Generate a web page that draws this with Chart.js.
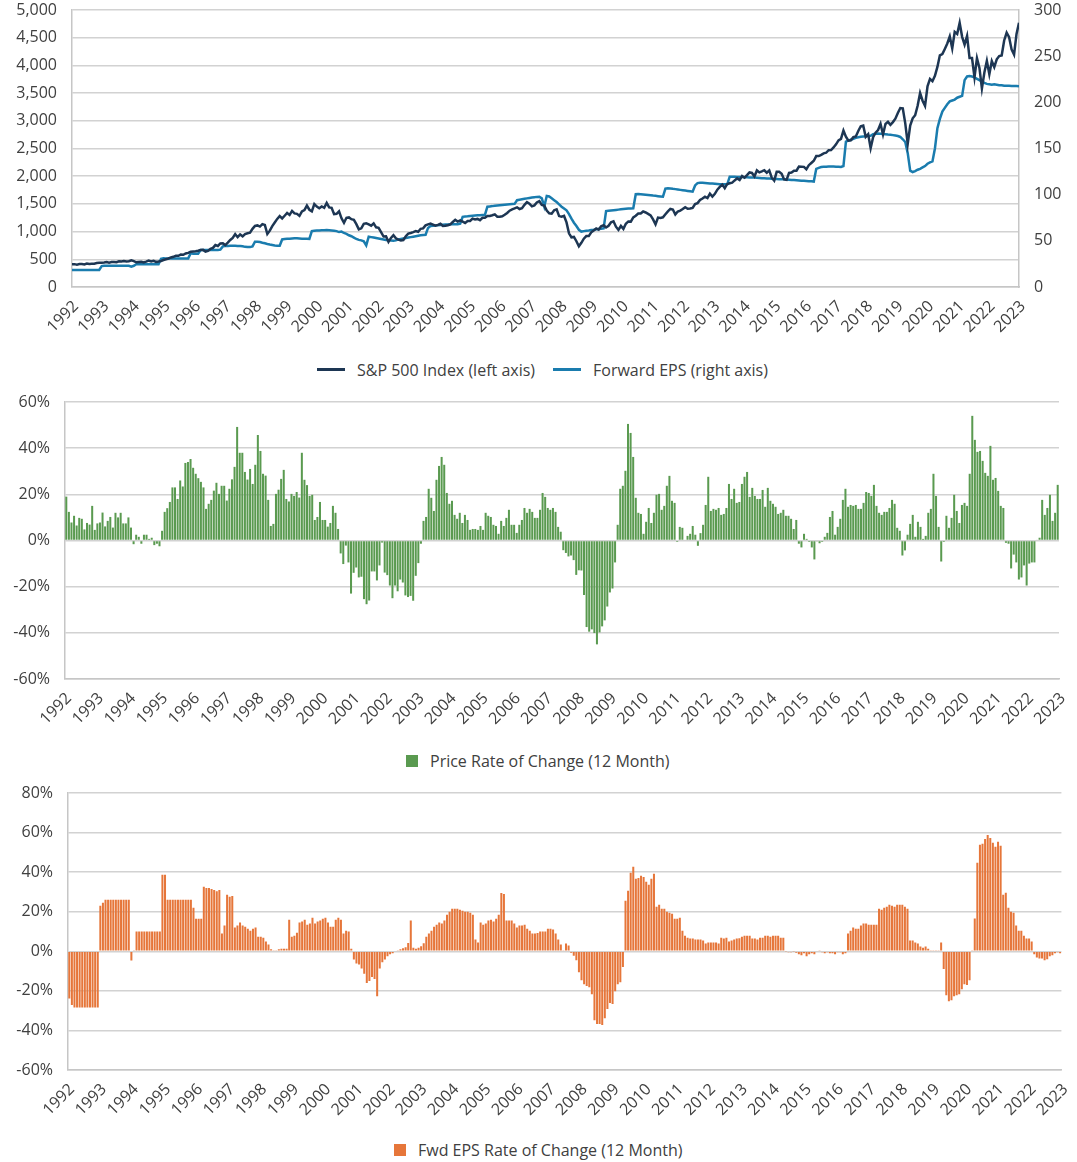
<!DOCTYPE html>
<html>
<head>
<meta charset="utf-8">
<title>S&amp;P 500 vs Forward EPS</title>
<script src="https://cdn.jsdelivr.net/npm/chart.js@4.4.1/dist/chart.umd.min.js"></script>
<style>
    body { margin: 0; background: #fff; }
    .page { position: relative; width: 1077px; height: 1162px; font-family: 'Open Sans', sans-serif; color: #404040; }
    canvas { position: absolute; left: 0; }
    .legend-text { position: absolute; font-size: 16px; line-height: 20px; white-space: nowrap; }
    .swatch { position: absolute; }
</style>
</head>
<body>
<div class="page">
    <canvas id="priceChart" width="1077" height="345" style="top:0"></canvas>
    <canvas id="rocChart" width="1077" height="345" style="top:390px"></canvas>
    <canvas id="epsRocChart" width="1077" height="345" style="top:780px"></canvas>

    <div class="swatch" style="left:317px; top:368px; width:28px; height:3px; background:#1d3653;"></div>
    <div class="legend-text" style="left:357px; top:360px;">S&amp;P 500 Index (left axis)</div>
    <div class="swatch" style="left:553px; top:368px; width:28px; height:3px; background:#1a7cae;"></div>
    <div class="legend-text" style="left:593px; top:360px;">Forward EPS (right axis)</div>

    <div class="swatch" style="left:406px; top:755px; width:12px; height:12px; background:#5a9a50;"></div>
    <div class="legend-text" style="left:430px; top:751px;">Price Rate of Change (12 Month)</div>

    <div class="swatch" style="left:394px; top:1144px; width:12px; height:12px; background:#e6763a;"></div>
    <div class="legend-text" style="left:418px; top:1140px;">Fwd EPS Rate of Change (12 Month)</div>
</div>

<script>
// tick labels on the time axis
const yearLabels = ['1992', '1993', '1994', '1995', '1996', '1997', '1998', '1999',
    '2000', '2001', '2002', '2003', '2004', '2005', '2006', '2007',
    '2008', '2009', '2010', '2011', '2012', '2013', '2014', '2015',
    '2016', '2017', '2018', '2019', '2020', '2021', '2022', '2023'];

// S&P 500 month end level, Jan 1992 - Dec 2023
const sp500 = [
    408.8, 412.7, 403.7, 415.0, 415.4, 408.1, 424.2, 414.0, 417.8, 418.7, 431.4, 435.7,
    438.8, 443.4, 451.7, 440.2, 450.2, 450.5, 448.1, 463.6, 458.9, 467.8, 461.8, 466.5,
    481.6, 467.1, 445.8, 450.9, 456.5, 444.3, 458.3, 475.5, 462.7, 472.4, 453.7, 459.3,
    470.4, 487.4, 500.7, 514.7, 533.4, 544.8, 562.1, 561.9, 584.4, 581.5, 605.4, 615.9,
    636.0, 640.4, 645.5, 654.2, 669.1, 670.6, 640.0, 652.0, 687.3, 705.3, 757.0, 740.7,
    786.2, 790.8, 757.1, 801.3, 848.3, 885.1, 954.3, 899.5, 947.3, 914.6, 955.4, 970.4,
    980.3, 1049.3, 1101.8, 1111.8, 1090.8, 1133.8, 1120.7, 957.3, 1017.0, 1098.7, 1163.6, 1229.2,
    1279.6, 1238.3, 1286.4, 1335.2, 1301.8, 1372.7, 1328.7, 1320.4, 1282.7, 1362.9, 1388.9, 1469.3,
    1394.5, 1366.4, 1498.6, 1452.4, 1420.6, 1454.6, 1430.8, 1517.7, 1436.5, 1429.4, 1315.0, 1320.3,
    1366.0, 1239.9, 1160.3, 1249.5, 1255.8, 1224.4, 1211.2, 1133.6, 1040.9, 1059.8, 1139.5, 1148.1,
    1130.2, 1106.7, 1147.4, 1076.9, 1067.1, 989.8, 911.6, 916.1, 815.3, 885.8, 936.3, 879.8,
    855.7, 841.2, 848.2, 916.9, 963.6, 974.5, 990.3, 1008.0, 996.0, 1050.7, 1058.2, 1111.9,
    1131.1, 1144.9, 1126.2, 1107.3, 1120.7, 1140.8, 1101.7, 1104.2, 1114.6, 1130.2, 1173.8, 1211.9,
    1181.3, 1203.6, 1180.6, 1156.9, 1191.5, 1191.3, 1234.2, 1220.3, 1228.8, 1207.0, 1249.5, 1248.3,
    1280.1, 1280.7, 1294.8, 1310.6, 1270.1, 1270.2, 1276.7, 1303.8, 1335.9, 1377.9, 1400.6, 1418.3,
    1438.2, 1406.8, 1420.9, 1482.4, 1530.6, 1503.4, 1455.3, 1474.0, 1526.8, 1549.4, 1481.1, 1468.4,
    1378.6, 1330.6, 1322.7, 1385.6, 1400.4, 1280.0, 1267.4, 1282.8, 1166.4, 968.8, 896.2, 903.3,
    825.9, 735.1, 797.9, 872.8, 919.1, 919.3, 987.5, 1020.6, 1057.1, 1036.2, 1095.6, 1115.1,
    1073.9, 1104.5, 1169.4, 1186.7, 1089.4, 1030.7, 1101.6, 1049.3, 1141.2, 1183.3, 1180.6, 1257.6,
    1286.1, 1327.2, 1325.8, 1363.6, 1345.2, 1320.6, 1292.3, 1218.9, 1131.4, 1253.3, 1247.0, 1257.6,
    1312.4, 1365.7, 1408.5, 1397.9, 1310.3, 1362.2, 1379.3, 1406.6, 1440.7, 1412.2, 1416.2, 1426.2,
    1498.1, 1514.7, 1569.2, 1597.6, 1630.7, 1606.3, 1685.7, 1633.0, 1681.6, 1756.5, 1805.8, 1848.4,
    1782.6, 1859.5, 1872.3, 1884.0, 1923.6, 1960.2, 1930.7, 2003.4, 1972.3, 2018.1, 2067.6, 2058.9,
    1995.0, 2104.5, 2067.9, 2085.5, 2107.4, 2063.1, 2103.8, 1972.2, 1920.0, 2079.4, 2080.4, 2043.9,
    1940.2, 1932.2, 2059.7, 2065.3, 2097.0, 2098.9, 2173.6, 2171.0, 2168.3, 2126.2, 2198.8, 2238.8,
    2278.9, 2363.6, 2362.7, 2384.2, 2411.8, 2423.4, 2470.3, 2471.7, 2519.4, 2575.3, 2647.6, 2673.6,
    2823.8, 2713.8, 2640.9, 2648.1, 2705.3, 2718.4, 2816.3, 2901.5, 2914.0, 2711.7, 2760.2, 2506.9,
    2704.1, 2784.5, 2834.4, 2945.8, 2752.1, 2941.8, 2980.4, 2926.5, 2976.7, 3037.6, 3141.0, 3230.8,
    3225.5, 2954.2, 2584.6, 2912.4, 3044.3, 3100.3, 3271.1, 3500.3, 3363.0, 3270.0, 3621.6, 3756.1,
    3714.2, 3811.2, 3972.9, 4181.2, 4204.1, 4297.5, 4395.3, 4522.7, 4307.5, 4605.4, 4567.0, 4766.2,
    4515.6, 4373.9, 4530.4, 4131.9, 4132.2, 3785.4, 4130.3, 3955.0, 3585.6, 3872.0, 4080.1, 3839.5,
    4076.6, 3970.2, 4109.3, 4169.5, 4179.8, 4450.4, 4589.0, 4507.7, 4288.1, 4193.8, 4567.8, 4769.8
];

// forward 12 month EPS, same months (right axis)
const forwardEps = [
    18.4, 18.4, 18.4, 18.4, 18.4, 18.4, 18.4, 18.4, 18.4, 18.4, 18.4, 18.4,
    22.6, 22.9, 23.0, 23.0, 23.0, 23.0, 23.0, 23.0, 23.0, 23.0, 23.0, 23.0,
    22.1, 23.0, 24.6, 24.6, 24.6, 24.6, 24.6, 24.6, 24.6, 24.6, 24.6, 24.6,
    30.5, 31.2, 31.0, 31.0, 31.0, 31.0, 31.0, 31.0, 31.0, 31.0, 31.0, 31.0,
    36.5, 36.0, 36.0, 36.0, 40.0, 40.0, 40.0, 40.0, 40.0, 40.0, 40.0, 40.0,
    40.5, 44.0, 44.4, 44.4, 44.6, 44.6, 44.6, 44.5, 44.4, 44.2, 43.5, 43.2,
    43.2, 44.0, 49.0, 49.0, 48.8, 48.0, 47.3, 46.6, 46.0, 45.5, 45.0, 44.6,
    44.6, 51.5, 52.0, 52.3, 52.3, 52.5, 52.7, 52.7, 52.5, 52.3, 52.3, 52.2,
    52.0, 60.5, 61.0, 61.3, 61.3, 61.5, 61.5, 61.7, 61.5, 61.3, 61.0, 60.5,
    59.5, 60.0, 58.5, 57.5, 56.0, 55.0, 53.5, 52.0, 51.0, 50.5, 49.5, 45.0,
    54.5, 54.0, 53.5, 53.0, 52.5, 52.0, 51.5, 51.0, 50.5, 50.3, 50.0, 50.5,
    51.5, 52.0, 52.5, 53.0, 53.5, 54.0, 54.5, 55.0, 55.5, 56.0, 56.3, 56.6,
    64.0, 66.0, 66.3, 66.6, 67.0, 67.2, 67.4, 67.6, 67.8, 68.0, 68.0, 68.0,
    68.0, 68.5, 76.0, 76.3, 76.6, 77.0, 77.2, 77.4, 77.6, 77.8, 78.0, 78.0,
    87.0, 87.3, 87.6, 88.0, 88.3, 88.6, 88.9, 89.2, 89.4, 89.6, 89.8, 90.0,
    94.0, 94.5, 95.0, 95.5, 96.0, 96.5, 97.0, 97.3, 97.6, 97.8, 96.0, 87.0,
    98.6, 98.0, 96.0, 94.0, 92.0, 89.5, 87.0, 85.0, 83.0, 79.0, 74.0, 69.6,
    66.0, 62.0, 60.0, 60.5, 61.0, 61.3, 61.7, 62.0, 62.4, 62.8, 63.2, 63.5,
    82.3, 82.6, 82.9, 83.2, 83.5, 83.8, 84.1, 84.4, 84.7, 85.0, 85.1, 85.2,
    100.5, 100.7, 100.5, 100.3, 100.0, 99.7, 99.4, 99.0, 98.7, 98.4, 98.1, 97.8,
    106.5, 107.0, 106.7, 106.3, 106.0, 105.6, 105.2, 104.8, 104.4, 104.0, 103.6, 103.2,
    110.0, 112.5, 113.0, 112.8, 112.6, 112.4, 112.2, 112.0, 111.8, 111.6, 111.4, 111.2,
    111.2, 111.2, 119.5, 119.4, 119.3, 119.2, 119.1, 119.0, 118.9, 118.8, 118.7, 118.6,
    118.5, 118.3, 118.1, 117.9, 117.8, 117.6, 117.4, 117.2, 117.0, 116.9, 116.8, 116.7,
    116.6, 116.4, 116.2, 116.0, 115.8, 115.6, 115.4, 115.2, 115.0, 114.8, 114.6, 114.4,
    114.2, 128.0, 129.0, 130.0, 130.2, 130.3, 130.4, 130.5, 130.4, 130.3, 130.2, 130.0,
    131.0, 157.4, 158.5, 159.5, 160.5, 161.5, 162.2, 162.8, 163.0, 163.2, 163.5, 163.8,
    165.5, 166.0, 166.2, 166.0, 165.8, 165.5, 165.2, 165.0, 164.5, 164.0, 163.5, 162.5,
    160.0, 157.0, 145.0, 126.0, 124.5, 125.5, 127.0, 128.0, 129.5, 131.0, 133.5, 135.0,
    136.0, 150.0, 172.0, 182.0, 190.0, 194.0, 198.0, 201.0, 202.0, 203.0, 205.0, 206.0,
    207.0, 224.0, 228.0, 228.5, 228.0, 227.0, 225.5, 224.0, 222.5, 221.0, 220.0, 219.5,
    219.0, 219.5, 219.0, 218.5, 218.5, 218.0, 218.0, 218.0, 217.8, 217.8, 217.7, 217.5
];

// 12 month change of the index, in %
const priceRoc = [
    19, 12.4, 7.8, 10.7, 6.5, 9.8, 9.4, 4.8, 7.6, 6.9, 15, 4.6,
    7.4, 7.8, 12.1, 6.1, 8.5, 10.2, 5.6, 12, 10, 12, 7.4, 7.4,
    10, 5.6, -1.6, 2.5, 1.6, -1.4, 2.5, 2.5, 0.7, 1.2, -2, -1.4,
    -2.5, 4.2, 12.4, 14, 16.7, 23, 23, 18, 26, 23.4, 33.6, 34,
    35.3, 31.5, 28.9, 27, 25.4, 23, 13.7, 15.9, 17.6, 21.6, 25, 20.2,
    23.7, 23.7, 17.3, 22.4, 26.5, 31.9, 49.2, 38, 38, 29.7, 26.4, 31,
    24.5, 32.8, 45.7, 38.8, 28.9, 28.1, 17.6, 6.3, 7.2, 20.2, 22, 26.7,
    30.6, 18, 16.9, 20.2, 19.3, 21, 18.6, 38, 26.3, 24, 19.3, 19.8,
    8.9, 10.2, 16.7, 8.9, 8.9, 6, 7.6, 15, 12, 5, -5.6, -10.2,
    -2.2, -9.5, -23, -14, -11.7, -16, -15.7, -25.4, -27.6, -26, -13.4, -13.4,
    -17.3, -10.8, -0.9, -13.9, -15, -19.5, -25, -19.5, -22, -16.9, -18.2, -23.8,
    -24.5, -24, -26.1, -15.3, -9.8, -1.4, 8.5, 10.2, 22.4, 18.5, 12.8, 26.3,
    32.3, 36.2, 32.8, 20.6, 15.9, 17.2, 11.1, 9.4, 12, 7.6, 11.1, 8.9,
    4.6, 5, 5, 4.6, 6.3, 4.6, 12, 10.7, 10.2, 6.8, 6.3, 2.9,
    8.5, 6.3, 9.8, 13.3, 6.8, 6.8, 3.3, 6.8, 8.9, 14.1, 12, 13.7,
    12.4, 9.8, 9.8, 13.3, 20.6, 18.9, 14.1, 13.3, 14.1, 12.4, 5.9, 3.8,
    -4.2, -5.4, -6.9, -6.5, -8.5, -14.9, -12.9, -13, -23.6, -37.5, -39.5, -38.5,
    -40.1, -45, -39.8, -37.2, -34.6, -28.6, -22.5, -20.8, -9.5, 6.8, 22.4, 23.7,
    30.2, 50.5, 46.6, 36.2, 18.5, 12, 11.5, 2.9, 8.1, 14.1, 7.6, 12,
    19.8, 20.2, 13.3, 15, 23.7, 28, 17.2, 16.3, -0.6, 5.9, 5.5, 0.3,
    2, 2.9, 6.3, 2.5, -2.3, 3.2, 6.8, 15.4, 27.6, 12.8, 13.7, 13.3,
    14.1, 11.1, 11.5, 14.1, 24.5, 18, 22.4, 16.3, 16.7, 24.5, 27.6, 29.7,
    18.9, 22.8, 19.3, 18, 18, 21.9, 14.6, 22.8, 17.2, 15.9, 14.6, 11.5,
    12, 13.3, 10.7, 10.7, 9.4, 5, 8.9, -1.4, -3, 2.9, 0.7, -0.6,
    -3, -8.2, -0.4, -1.2, -0.6, 1.6, 3.3, 10.2, 12.8, 2.5, 5.9, 9.4,
    17.6, 22.4, 14.6, 15.4, 15, 15.4, 13.7, 13.7, 16.3, 21, 20.6, 19.3,
    24.1, 15, 12, 11.1, 12.4, 12.4, 14.1, 17.6, 15.9, 5.5, 4.2, -6.5,
    -4.3, 2.5, 7.2, 11.1, 1.6, 8.1, 5.9, 0.7, 2, 12, 13.7, 28.9,
    19.3, 5.9, -9.1, -0.6, 10.7, 5.5, 9.8, 19.8, 12.8, 7.6, 15.4, 16.3,
    15, 28.9, 54, 43.6, 38.4, 38.8, 34.5, 29.3, 28, 41, 26.3, 27.1,
    21.5, 15, 14.1, -1, -1.4, -12.1, -6.1, -9.5, -16.9, -16, -10.8, -19.5,
    -10, -9.5, -9.5, 0.3, 1.2, 17.6, 11.1, 14.1, 19.8, 8.5, 12, 24.1
];

// 12 month change of forward EPS, in %
const epsRoc = [
    -23.9, -27.2, -28.4, -28.4, -28.4, -28.4, -28.4, -28.4, -28.4, -28.4, -28.4, -28.4,
    23, 24.5, 26, 26, 26, 26, 26, 26, 26, 26, 26, 26,
    -4.7, 0.3, 10, 10, 10, 10, 10, 10, 10, 10, 10, 10,
    38.7, 38.7, 26, 26, 26, 26, 26, 26, 26, 26, 26, 26,
    22, 16.5, 16.5, 16.5, 32.6, 32, 32, 31.5, 31, 30.4, 31, 9,
    13, 28.6, 27.6, 28, 12, 13, 14.6, 13, 12.4, 11.4, 10.4, 11.4,
    12, 7.4, 7.4, 6.9, 4.9, 3.4, 1, 0.3, 0.3, 1, 1.3, 1.3,
    1.3, 16, 7.4, 7.9, 9.4, 14.5, 15, 16, 13.4, 14, 17, 14,
    15, 15.5, 16.5, 17, 14.5, 12.4, 12.4, 16, 17, 16, 9, 10.4,
    10, 1.3, -4.2, -6.2, -6.7, -8.7, -11.3, -16, -15, -13, -14, -22.7,
    -8.7, -5.5, -4.2, -2.5, -1.5, -1, 0, 0.5, 1, 1.5, 2, 4.2,
    15.5, 1.8, 1.3, 1.8, 2.5, 4, 7.4, 9, 10.4, 12.4, 13.4, 14.5,
    14, 15.5, 18.5, 20, 21.5, 21.5, 21.5, 21, 20.5, 20, 20, 19.5,
    18.5, 5.9, 4.4, 14.5, 13.4, 14, 15.5, 16, 15, 16.5, 18.5, 29.4,
    29, 15.5, 15.5, 15.5, 14, 12, 13, 13, 13.4, 11.4, 10.4, 9,
    9, 9.2, 10, 10, 10, 11.4, 11.4, 11, 9, 5.9, 3.4, 0.3,
    3.9, 2.9, -0.8, -2.2, -4.5, -10.6, -14.6, -16.6, -17.6, -18.2, -21.7, -34.8,
    -36.8, -36.8, -37.3, -33.8, -29.2, -26.2, -26.7, -20.2, -16.6, -15.6, -8, 25.5,
    30.6, 39.7, 42.7, 36.6, 37.1, 38.2, 37.6, 35.1, 33.6, 36.6, 39.2, 22.5,
    23.5, 21.5, 21.5, 20, 19.5, 19, 16.5, 16.5, 17, 10.4, 7.9, 6.9,
    6.4, 6.4, 6, 5.9, 5.9, 5.4, 3.9, 4.4, 4.4, 4.4, 4.4, 3.9,
    6.9, 6.4, 6.9, 4.9, 5.4, 6, 6.4, 6.6, 7.4, 7.9, 7.9, 7.9,
    6.4, 6.4, 5.9, 6.9, 6.9, 7.9, 7.9, 7.4, 7.9, 7.9, 7.9, 6.9,
    6.9, -0.2, -0.5, -0.5, -0.2, -0.8, -1.5, -2, -1, -2.5, -1.5, -1,
    -1.5, 0, 0.3, -0.5, -1, -0.5, -1, -1, -1.5, -0.5, -0.5, -1.5,
    -1, 9, 10.4, 12, 11.4, 11.4, 13, 14, 14, 13.4, 13.4, 13.4,
    13.4, 21.5, 21, 22, 22.5, 23.5, 23, 22.5, 23.5, 23.5, 23.5, 22.5,
    21.5, 5.4, 5.4, 4.4, 3.9, 2.4, 1.8, 2.4, 1.3, 0.3, 0.3, 0.3,
    0.3, 4.4, -9, -22.2, -25.2, -24.7, -22.7, -22.2, -21.7, -19.2, -16.6, -17.1,
    -14.6, 0.3, 16.6, 44.7, 53.8, 54.3, 56.8, 58.8, 57.3, 54.8, 52.8, 55.3,
    53.3, 28.6, 29.6, 22, 20, 19.5, 13, 10.4, 10.4, 7.9, 6.4, 6.4,
    4.9, -1.5, -3.2, -3.7, -3.7, -4.5, -4, -2.5, -2, -1, -0.5, -1
];

const textColor = '#404040';
const gridColor = '#d2d2d2';
const tickFont = { family: "'Open Sans', sans-serif", size: 16 };

// monthly series -> {x, y} points on a linear month axis
function toPoints(values) {
    return values.map((v, i) => ({ x: i, y: v }));
}

// year labels spread evenly along the month axis, rotated like the original
function yearAxis(min, max, height) {
    return {
        type: 'linear',
        min: min,
        max: max,
        offset: false,
        grid: { display: false },
        border: { display: true, color: '#c6c6c6', width: 1.5 },
        afterBuildTicks: (axis) => {
            const step = (max - min) / (yearLabels.length - 1);
            axis.ticks = yearLabels.map((label, i) => ({ value: min + i * step }));
        },
        ticks: {
            autoSkip: false,
            maxRotation: 45,
            minRotation: 45,
            padding: 2,
            labelOffset: 4,
            color: textColor,
            font: tickFont,
            callback: (value, index) => yearLabels[index]
        },
        afterFit: (axis) => { axis.height = height; }
    };
}

function valueAxis(min, max, step, width, format, position) {
    return {
        position: position || 'left',
        min: min,
        max: max,
        grid: { color: gridColor, lineWidth: 1.5, drawTicks: false },
        border: { display: true, color: '#c6c6c6', width: 1.5 },
        ticks: {
            stepSize: step,
            padding: 15,
            color: textColor,
            font: tickFont,
            callback: format
        },
        afterFit: (axis) => {
            axis.width = width;
            // let layout.padding alone decide where the plot starts
            axis.paddingTop = 0;
            axis.paddingBottom = 0;
        }
    };
}

Chart.defaults.font.family = "'Open Sans', sans-serif";
Chart.defaults.color = textColor;

// top panel: index level against forward EPS
const rightAxis = valueAxis(0, 300, 50, 58, (v) => v, 'right');
rightAxis.grid = { display: false, drawTicks: false };

new Chart(document.getElementById('priceChart').getContext('2d'), {
    type: 'line',
    data: {
        datasets: [{
            label: 'S&P 500 Index (left axis)',
            data: toPoints(sp500),
            yAxisID: 'y',
            borderColor: '#1d3653',
            borderWidth: 2.5,
            pointRadius: 0,
            tension: 0
        }, {
            label: 'Forward EPS (right axis)',
            data: toPoints(forwardEps),
            yAxisID: 'y1',
            borderColor: '#1a7cae',
            borderWidth: 2.5,
            pointRadius: 0,
            tension: 0
        }]
    },
    options: {
        responsive: false,
        animation: false,
        layout: { padding: { top: 10 } },
        plugins: { legend: { display: false }, tooltip: { enabled: false } },
        scales: {
            x: yearAxis(0, sp500.length - 1, 58),
            y: valueAxis(0, 5000, 500, 72, (v) => v.toLocaleString('en-US')),
            y1: rightAxis
        }
    }
});

// middle panel: price rate of change
new Chart(document.getElementById('rocChart').getContext('2d'), {
    type: 'bar',
    data: {
        datasets: [{
            label: 'Price Rate of Change (12 Month)',
            data: toPoints(priceRoc),
            backgroundColor: '#5a9a50',
            categoryPercentage: 1,
            barPercentage: 0.78
        }]
    },
    options: {
        responsive: false,
        animation: false,
        layout: { padding: { top: 12, right: 18 } },
        plugins: { legend: { display: false }, tooltip: { enabled: false } },
        scales: {
            x: yearAxis(-0.5, priceRoc.length - 0.5, 56),
            y: valueAxis(-60, 60, 20, 65, (v) => v + '%')
        }
    }
});

// bottom panel: forward EPS rate of change
new Chart(document.getElementById('epsRocChart').getContext('2d'), {
    type: 'bar',
    data: {
        datasets: [{
            label: 'Fwd EPS Rate of Change (12 Month)',
            data: toPoints(epsRoc),
            backgroundColor: '#e6763a',
            categoryPercentage: 1,
            barPercentage: 0.78
        }]
    },
    options: {
        responsive: false,
        animation: false,
        layout: { padding: { top: 13, right: 15 } },
        plugins: { legend: { display: false }, tooltip: { enabled: false } },
        scales: {
            x: yearAxis(-0.5, epsRoc.length - 0.5, 55),
            y: valueAxis(-60, 80, 20, 68, (v) => v + '%')
        }
    }
});
</script>
</body>
</html>
